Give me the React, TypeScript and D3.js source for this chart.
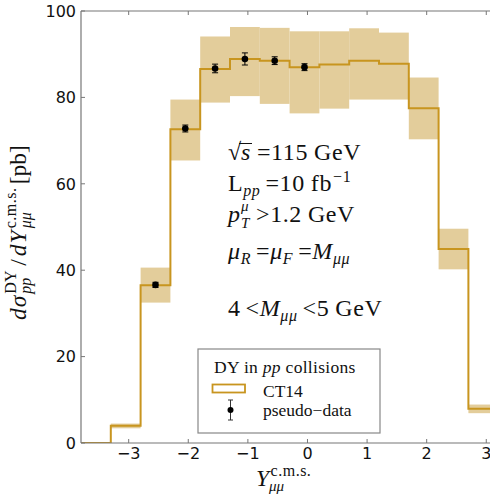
import React from "react";
import * as d3 from "d3";

// ---- data ----
const binEdges = [-3.8, -3.3, -2.8, -2.3, -1.8, -1.3, -0.8, -0.3, 0.2, 0.7, 1.2, 1.7, 2.2, 2.7, 3.2];
const ct14 = [0, 4.0, 36.5, 72.6, 86.6, 88.9, 88.5, 87.0, 87.6, 88.5, 87.8, 77.5, 44.9, 7.9];
const bandLo = [NaN, 3.4, 32.5, 65.4, 78.8, 80.3, 78.5, 76.3, 77.4, 79.5, 79.5, 70.3, 40.2, 6.9];
const bandHi = [NaN, 4.5, 40.6, 79.5, 94.1, 96.3, 96.1, 95.3, 95.3, 96.0, 95.0, 84.6, 49.6, 8.9];
const dataX = [-2.55, -2.05, -1.55, -1.05, -0.55, -0.05];
const dataY = [36.6, 72.8, 86.7, 88.9, 88.5, 87.0];
const dataErr = [0.6, 0.8, 1.0, 1.4, 0.9, 0.8];
const xTicks = [-3, -2, -1, 0, 1, 2, 3];
const yTicks = [0, 20, 40, 60, 80, 100];

const W = 490, H = 494;
const L = 81, T = 11, B = 443;
const x = d3.scaleLinear().domain([-3.8, 3.8]).range([L, L + 7.6 * 59.6]);
const y = d3.scaleLinear().domain([0, 100]).range([B, T]);

const LINE = "#c8951f";
const BAND = "#e3cd9b";
const AX = "#777";
const SERIF = "'Liberation Serif', 'Times New Roman', serif";
const SANS = "'DejaVu Sans', sans-serif";

export default function App() {
  const stepPts: [number, number][] = [];
  ct14.forEach((v, i) => {
    stepPts.push([binEdges[i], v]);
    stepPts.push([binEdges[i + 1], v]);
  });
  const line = d3.line<[number, number]>().x(d => x(d[0])).y(d => y(d[1]));
  const R = x(3.8);
  const fs = 23.5;
  const afs = 24;
  const sfs = 16;
  return (
    <svg width={W} height={H} style={{ position: "absolute", left: 0, top: 0, background: "#fff" }}>
      <defs>
        <clipPath id="plot">
          <rect x={L} y={T} width={R - L} height={B - T} />
        </clipPath>
      </defs>
      <rect x={0} y={0} width={W} height={H} fill="#fff" />
      <g clipPath="url(#plot)">
        {ct14.map((v, i) =>
          isNaN(bandLo[i]) ? null : (
            <rect key={i} x={x(binEdges[i])} width={x(binEdges[i + 1]) - x(binEdges[i])}
              y={y(bandHi[i])} height={y(bandLo[i]) - y(bandHi[i])} fill={BAND} />
          )
        )}
        <path d={line(stepPts) || ""} fill="none" stroke={LINE} strokeWidth={2} />
        {dataX.map((dx, i) => (
          <g key={i}>
            <line x1={x(dx)} x2={x(dx)} y1={y(dataY[i] - dataErr[i])} y2={y(dataY[i] + dataErr[i])} stroke="#000" strokeWidth={1} />
            <line x1={x(dx) - 3} x2={x(dx) + 3} y1={y(dataY[i] - dataErr[i])} y2={y(dataY[i] - dataErr[i])} stroke="#000" strokeWidth={1} />
            <line x1={x(dx) - 3} x2={x(dx) + 3} y1={y(dataY[i] + dataErr[i])} y2={y(dataY[i] + dataErr[i])} stroke="#000" strokeWidth={1} />
            <circle cx={x(dx)} cy={y(dataY[i])} r={3.3} fill="#000" />
          </g>
        ))}
      </g>
      {/* spines */}
      <line x1={L} x2={L} y1={T} y2={B} stroke={AX} strokeWidth={1.2} />
      <line x1={L} x2={R} y1={B} y2={B} stroke={AX} strokeWidth={1.2} />
      <line x1={L} x2={R} y1={T} y2={T} stroke={AX} strokeWidth={1.2} />
      {/* ticks */}
      {xTicks.map(t => (
        <g key={"x" + t}>
          <line x1={x(t)} x2={x(t)} y1={B} y2={B - 4} stroke={AX} />
          <line x1={x(t)} x2={x(t)} y1={T} y2={T + 4} stroke={AX} />
          <text x={x(t)} y={458.5} textAnchor="middle" fontFamily={SANS} fontSize={16} fill="#111">
            {t < 0 ? "\u2212" + Math.abs(t) : String(t)}
          </text>
        </g>
      ))}
      {yTicks.map(t => (
        <g key={"y" + t}>
          <line x1={L} x2={L + 4} y1={y(t)} y2={y(t)} stroke={AX} />
          <text x={L - 5} y={y(t) + 5.8} textAnchor="end" fontFamily={SANS} fontSize={16} fill="#111">{t}</text>
        </g>
      ))}
      {/* y label */}
      <g transform="translate(26,320) rotate(-90)">
        <text x={0} y={0} fontFamily={SERIF} fontSize={fs} fill="#111">
          <tspan fontStyle="italic" letterSpacing={1}>dσ</tspan>
          <tspan fontSize={sfs} dx={1} dy={-10}>DY</tspan>
          <tspan fontSize={sfs} fontStyle="italic" dx={-23.1} dy={15}>pp</tspan>
          <tspan dx={12} dy={-5}>/</tspan>
          <tspan fontStyle="italic" dx={3} letterSpacing={1}>dY</tspan>
          <tspan fontSize={sfs} dx={1} dy={-10} letterSpacing={0.5}>c.m.s.</tspan>
          <tspan fontSize={sfs} fontStyle="italic" dx={-40.8} dy={15}>μμ</tspan>
          <tspan dx={28} dy={-5}>[pb]</tspan>
        </text>
      </g>
      {/* x label */}
      <text x={256} y={486} fontFamily={SERIF} fontSize={fs} fill="#111">
        <tspan fontStyle="italic">Y</tspan>
        <tspan fontSize={16} dy={-10} dx={1.5} letterSpacing={0.5}>c.m.s.</tspan>
      </text>
      <text x={269} y={491} fontFamily={SERIF} fontSize={15} fontStyle="italic" fill="#111">μμ</text>
      {/* annotation */}
      <g fontFamily={SERIF} fontSize={afs} fill="#111" letterSpacing={0.6}>
        <text x={228} y={160}>
          <tspan>√</tspan>
          <tspan x={241} fontStyle="italic">s</tspan>
          <tspan dx={6}>=115</tspan>
          <tspan dx={6}>GeV</tspan>
        </text>
        <line x1={239} x2={252} y1={143.5} y2={143.5} stroke="#111" strokeWidth={1} />
        <text x={228} y={191}>
          <tspan>L</tspan>
          <tspan fontSize={sfs} fontStyle="italic" dy={5}>pp</tspan>
          <tspan dx={5} dy={-5}>=10</tspan>
          <tspan dx={6}>fb</tspan>
          <tspan fontSize={sfs} dx={1} dy={-9}>−1</tspan>
        </text>
        <text x={228} y={222}>
          <tspan fontStyle="italic">p</tspan>
          <tspan x={241} fontSize={15} fontStyle="italic" dy={-11}>μ</tspan>
          <tspan x={241} fontSize={15} fontStyle="italic" dy={17}>T</tspan>
          <tspan x={256} dy={-6}>{">1.2"}</tspan>
          <tspan dx={6}>GeV</tspan>
        </text>
        <text x={228} y={259}>
          <tspan fontStyle="italic">μ</tspan>
          <tspan fontSize={sfs} fontStyle="italic" dy={5}>R</tspan>
          <tspan dx={5} dy={-5}>=</tspan>
          <tspan fontStyle="italic">μ</tspan>
          <tspan fontSize={sfs} fontStyle="italic" dy={5}>F</tspan>
          <tspan dx={5} dy={-5}>=</tspan>
          <tspan fontStyle="italic">M</tspan>
          <tspan fontSize={sfs} fontStyle="italic" dy={5}>μμ</tspan>
        </text>
        <text x={228} y={316}>
          <tspan>4</tspan>
          <tspan dx={5}>{"<"}</tspan>
          <tspan fontStyle="italic">M</tspan>
          <tspan fontSize={sfs} fontStyle="italic" dy={5}>μμ</tspan>
          <tspan dx={5} dy={-5}>{"<5"}</tspan>
          <tspan dx={6}>GeV</tspan>
        </text>
      </g>
      {/* legend */}
      <rect x={198} y={349} width={182} height={84} fill="#fff" stroke="#888" strokeWidth={1.2} />
      <g fontFamily={SERIF} fontSize={17.5} fill="#111">
        <text x={214} y={373} letterSpacing={0.3}>
          <tspan>DY in </tspan>
          <tspan fontStyle="italic">pp</tspan>
          <tspan> collisions</tspan>
        </text>
        <rect x={212.5} y={384.5} width={32.5} height={8} fill="#fff" stroke={LINE} strokeWidth={1.8} />
        <text x={263} y={397}>CT14</text>
        <line x1={230.5} x2={230.5} y1={400} y2={420} stroke="#333" strokeWidth={1} />
        <line x1={228} x2={233} y1={400} y2={400} stroke="#333" strokeWidth={1} />
        <line x1={228} x2={233} y1={420} y2={420} stroke="#333" strokeWidth={1} />
        <circle cx={230.5} cy={410} r={3} fill="#000" />
        <text x={263} y={416}>pseudo−data</text>
      </g>
    </svg>
  );
}
